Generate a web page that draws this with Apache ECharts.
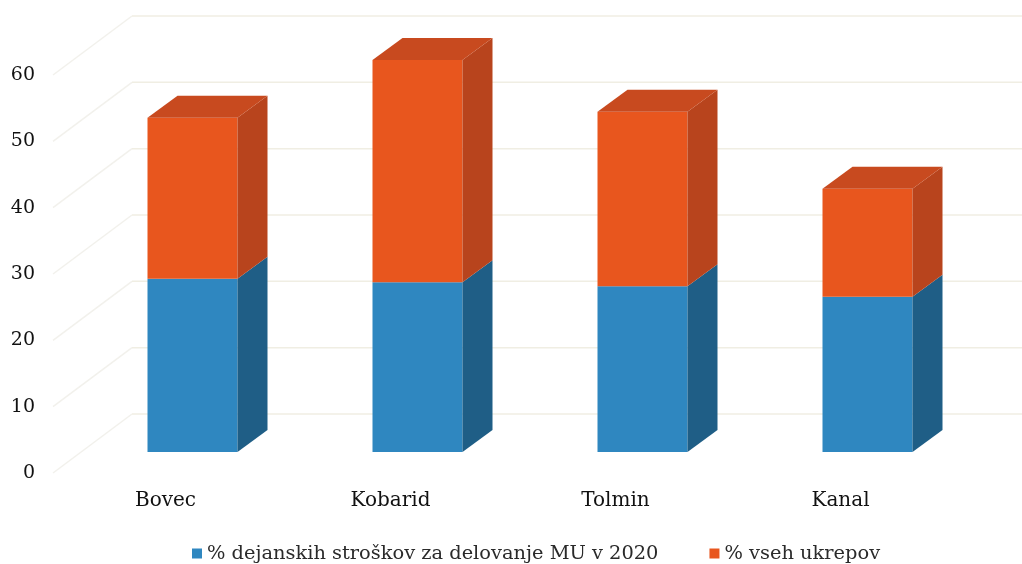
<!DOCTYPE html>
<html>
<head>
<meta charset="utf-8">
<script src="https://cdn.jsdelivr.net/npm/echarts@6/dist/echarts.min.js"></script>
<style>
html, body { margin: 0; padding: 0; background: #fff; }
#chart { width: 1022px; height: 564px; }
</style>
</head>
<body>
<div id="chart"></div>
<script>
// podatki
var categories = ['Bovec', 'Kobarid', 'Tolmin', 'Kanal'];
var costShare = [26.1, 25.6, 25.0, 23.4];      // % dejanskih stroškov za delovanje MU v 2020
var measureShare = [24.3, 33.5, 26.3, 16.3];   // % vseh ukrepov
var yTicks = [0, 10, 20, 30, 40, 50, 60];

var costName = '% dejanskih stroškov za delovanje MU v 2020';
var measureName = '% vseh ukrepov';

// 3D zamik (piksli)
var WALL_DX = 79, WALL_DY = -59;   // zadnja stena
var FRONT_DX = 27, FRONT_DY = -21; // sprednja ploskev stolpca
var BAR_DX = 30, BAR_DY = -22;     // globina stolpca

var fontFam = '"DejaVu Serif", serif';

// mreža: stranska (diagonalna) in zadnja stena
function wallItem(params, api) {
	var cs = params.coordSys;
	var y = api.coord([0, api.value(1)])[1];
	var x0 = cs.x;
	return {
		type: 'group',
		children: [
			{
				type: 'line',
				shape: { x1: x0, y1: y, x2: x0 + WALL_DX, y2: y + WALL_DY },
				style: { stroke: '#f2f1ec', lineWidth: 1.5 }
			},
			{
				type: 'line',
				shape: { x1: x0 + WALL_DX, y1: y + WALL_DY, x2: x0 + cs.width + WALL_DX, y2: y + WALL_DY },
				style: { stroke: '#f0eee3', lineWidth: 1.5 }
			}
		]
	};
}

function barItem(front, side, top, withTop) {
	return function(params, api) {
		var i = api.value(0);
		var pLo = api.coord([i, api.value(1)]);
		var pHi = api.coord([i, api.value(2)]);
		var w = api.size([1, 0])[0] * 0.4;
		var xl = pLo[0] - w / 2 + FRONT_DX;
		var xr = xl + w;
		var yb = pLo[1] + FRONT_DY;
		var yt = pHi[1] + FRONT_DY;
		var children = [
			{
				type: 'polygon',
				shape: { points: [[xl, yt], [xr, yt], [xr, yb], [xl, yb]] },
				style: { fill: front }
			},
			{
				type: 'polygon',
				shape: { points: [[xr, yt], [xr + BAR_DX, yt + BAR_DY], [xr + BAR_DX, yb + BAR_DY], [xr, yb]] },
				style: { fill: side }
			}
		];
		if (withTop) {
			children.push({
				type: 'polygon',
				shape: { points: [[xl, yt], [xl + BAR_DX, yt + BAR_DY], [xr + BAR_DX, yt + BAR_DY], [xr, yt]] },
				style: { fill: top }
			});
		}
		return { type: 'group', children: children };
	};
}

var costData = [], measureData = [], wallData = [];
for (var i = 0; i < categories.length; i++) {
	costData.push([i, 0, costShare[i]]);
	measureData.push([i, costShare[i], costShare[i] + measureShare[i]]);
}
for (var j = 0; j < yTicks.length; j++) {
	wallData.push([0, yTicks[j]]);
}

var option = {
	backgroundColor: '#ffffff',
	animation: false,
	grid: { left: 53, right: 69, top: 75, bottom: 91 },
	legend: {
		left: 187,
		top: 539,
		itemWidth: 10,
		itemHeight: 10,
		itemGap: 51,
		icon: 'rect',
		data: [costName, measureName],
		textStyle: { fontFamily: fontFam, fontSize: 19.4, color: '#2a2a2a' }
	},
	xAxis: {
		type: 'category',
		data: categories,
		axisLine: { show: false },
		axisTick: { show: false },
		axisLabel: { margin: 18, fontFamily: fontFam, fontSize: 20, color: '#111' }
	},
	yAxis: {
		type: 'value',
		min: 0,
		max: 60,
		interval: 10,
		axisLine: { show: false },
		axisTick: { show: false },
		splitLine: { show: false },
		axisLabel: { margin: 18, fontFamily: fontFam, fontSize: 19, color: '#111' }
	},
	series: [
		{
			name: 'walls',
			type: 'custom',
			silent: true,
			renderItem: wallItem,
			data: wallData,
			z: 1
		},
		{
			name: costName,
			type: 'custom',
			itemStyle: { color: '#2f87c0' },
			renderItem: barItem('#2f87c0', '#1f5e86', '#256f9e', false),
			data: costData,
			z: 2
		},
		{
			name: measureName,
			type: 'custom',
			itemStyle: { color: '#e8561e' },
			renderItem: barItem('#e8561e', '#b8441d', '#c84a1f', true),
			data: measureData,
			z: 3
		}
	]
};

var myChart = echarts.init(document.getElementById('chart'));
myChart.setOption(option);
window.onresize = myChart.resize;
</script>
</body>
</html>
